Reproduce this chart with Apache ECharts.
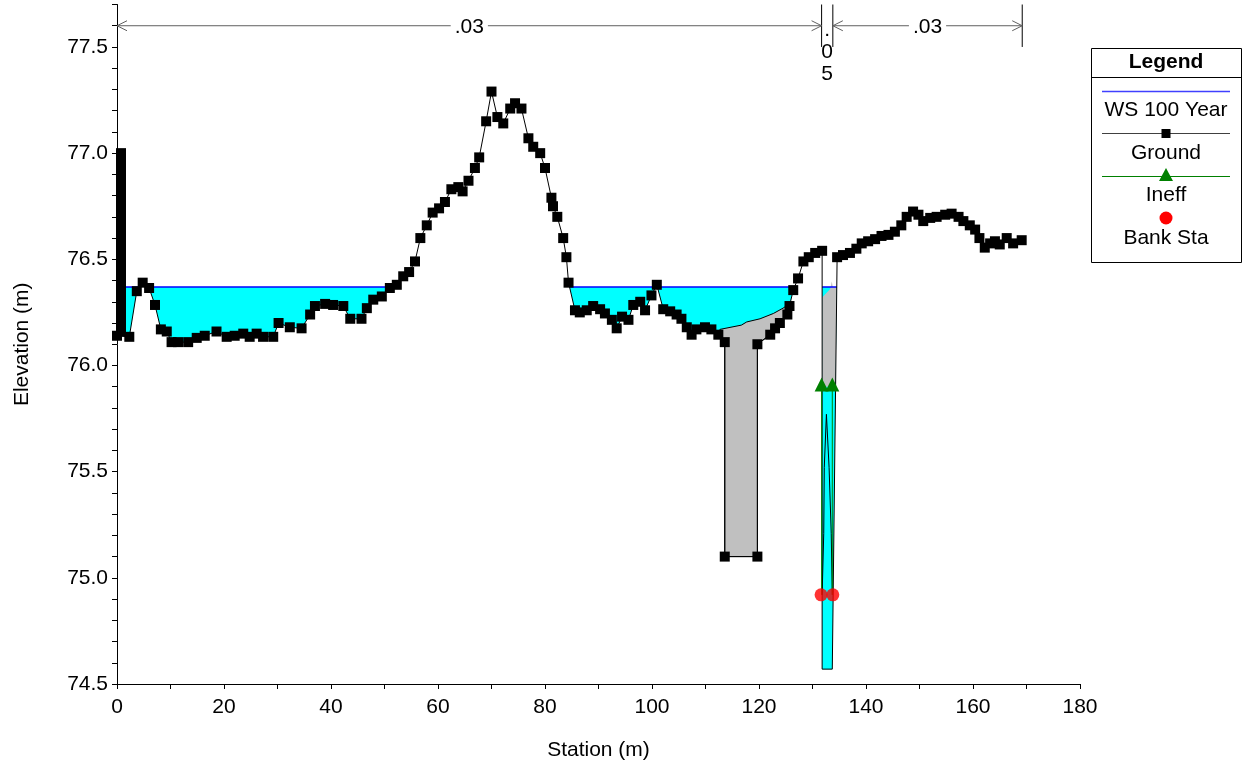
<!DOCTYPE html>
<html><head><meta charset="utf-8">
<script src="https://cdn.jsdelivr.net/npm/echarts@6/dist/echarts.min.js"></script>
<style>html,body{margin:0;padding:0;background:#fff}#c{width:1246px;height:763px}</style>
</head><body><div id="c"></div>
<script>
// ---------------- DATA ----------------
const wsElev = 76.37;               // WS 100 Year
const xTicks = [0, 180, 20];        // min, max, interval
const yTicks = [74.5, 77.7, 0.5];

// Ground: left overbank / main area up to slot top
const groundLeft = [
 [0.75,77.0],[0.75,76.96],[0.75,76.92],[0.75,76.88],[0.75,76.84],[0.75,76.80],[0.75,76.76],[0.75,76.72],
 [0.75,76.68],[0.75,76.64],[0.75,76.60],[0.75,76.56],[0.75,76.52],[0.75,76.48],[0.75,76.44],[0.75,76.40],
 [0.75,76.36],[0.75,76.32],[0.75,76.28],[0.75,76.24],[0.75,76.20],[0.75,76.16],
 [0,76.14],[2.3,76.135],[3.7,76.35],[4.8,76.39],[6.0,76.365],[7.1,76.285],[8.2,76.17],[9.3,76.16],
 [10.2,76.11],[11.4,76.11],[13.3,76.11],[14.9,76.13],[16.4,76.14],[18.6,76.16],[20.5,76.135],[22.0,76.14],
 [23.6,76.15],[24.8,76.135],[26.1,76.15],[27.3,76.135],[29.2,76.135],[30.2,76.2],[32.3,76.18],[34.5,76.175],
 [36.1,76.24],[37.0,76.28],[38.9,76.29],[40.4,76.285],[42.3,76.28],[43.6,76.22],[45.7,76.22],[46.7,76.27],
 [47.9,76.31],[49.5,76.325],[51.0,76.365],[52.3,76.38],[53.5,76.42],[54.6,76.44],[55.7,76.49],[56.7,76.6],
 [57.9,76.66],[59.0,76.72],[60.2,76.74],[61.3,76.77],[62.5,76.83],[63.8,76.84],[64.6,76.82],[65.7,76.87],
 [66.9,76.93],[67.7,76.98],[69.0,77.15],[70.0,77.29],[71.1,77.17],[72.2,77.14],[73.5,77.21],[74.4,77.235],
 [75.6,77.21],[76.9,77.07],[77.8,77.03],[79.1,77.0],[80.0,76.93],[81.2,76.79],[81.5,76.75],[82.3,76.7],
 [83.4,76.6],[84.0,76.51],[84.4,76.39],[85.6,76.26],[86.5,76.25],[87.8,76.26],[89.0,76.28],[90.3,76.265],
 [91.2,76.245],[92.5,76.215],[93.4,76.175],[94.4,76.23],[95.6,76.215],[96.5,76.285],[97.8,76.3],[98.7,76.26],
 [99.9,76.33],[100.9,76.38],[102.1,76.265],[103.4,76.255],[104.6,76.24],[105.5,76.22],[106.5,76.18],[107.4,76.145],
 [108.3,76.17],[109.9,76.18],[111.1,76.17],[112.4,76.145],[113.6,76.11],[113.6,75.1],[119.7,75.1],[119.7,76.1],
 [122.1,76.145],[123.0,76.175],[123.9,76.2],[125.3,76.24],[125.7,76.28],[126.4,76.355],[127.3,76.41],[128.3,76.49],
 [129.3,76.51],[130.5,76.53],[131.8,76.54]
];
// Slot bottom (no markers)
const groundSlot = [[131.8,74.57],[133.7,74.57]];
// Ground right overbank
const groundRight = [
 [134.6,76.51],[135.7,76.52],[137.0,76.53],[138.2,76.55],[139.2,76.575],[140.4,76.585],[141.7,76.595],[142.9,76.61],
 [144.2,76.615],[145.4,76.63],[146.6,76.66],[147.6,76.7],[148.8,76.725],[149.8,76.71],[150.7,76.68],[152.0,76.695],
 [153.2,76.7],[154.8,76.71],[156.0,76.715],[157.3,76.7],[158.2,76.68],[159.4,76.66],[160.4,76.64],[161.2,76.6],
 [162.2,76.555],[163.2,76.575],[164.1,76.585],[165.0,76.57],[166.3,76.6],[167.5,76.575],[169.1,76.59]
];
// Blocked (gray) areas
const blockA = [
 [112.4,76.145],[113.6,76.11],[113.6,75.1],[119.7,75.1],[119.7,76.1],[122.1,76.145],[123.0,76.175],[123.9,76.2],
 [125.3,76.24],[125.5,76.27],[125.1,76.28],[124.5,76.27],[122.7,76.245],[120.2,76.22],[117.7,76.205],[116.7,76.19],[112.7,76.17]
];
const blockB = [[131.8,76.32],[133.3,76.36],[133.6,76.395],[133.8,76.37],[134.53,76.37],[134.32,75.9],[131.8,75.9]];
const spike = [[131.8,74.92],[132.1,75.21],[132.2,75.52],[132.6,75.77],[133.1,75.52],[133.5,75.21],[133.7,74.92]];
// Ineffective flow
const ineffSta = [131.7, 133.7];
const ineffTop = 75.91, ineffBottom = 74.92;
// Bank stations
const bankSta = [[131.6,74.92],[133.8,74.92]];
// Manning's n
const nBounds = [0, 131.7, 133.8, 169.2];
const nValues = ['.03', '.05', '.03'];
const nElev = 77.6, nTickTop = 77.7, nTickBottom = 77.5;

// ---------------- GEOMETRY HELPERS ----------------
const groundAll = groundLeft.concat(groundSlot, groundRight);
function wetPolygons(pts, ws){
  const polys=[]; let cur=null;
  for(let i=0;i<pts.length;i++){
    const p=pts[i];
    if(i>0){
      const q=pts[i-1];
      const qa=q[1]<ws, pa=p[1]<ws;
      if(qa!==pa){
        const t=(ws-q[1])/(p[1]-q[1]);
        const x=q[0]+t*(p[0]-q[0]);
        if(pa){cur=[[x,ws]];} else {cur.push([x,ws]);polys.push(cur);cur=null;}
      }
    } else if(p[1]<ws){cur=[[p[0],ws]];}
    if(p[1]<ws) cur.push(p);
  }
  if(cur){cur.push([cur[cur.length-1][0],ws]);polys.push(cur);}
  return polys;
}
const wetPolys = wetPolygons(groundAll, wsElev);

const FONT = 'Liberation Sans, Arial, sans-serif';
const FS = 21;

function polySeries(name, pts, fill, stroke, z, closed){
  return {
    type:'custom', name, z, silent:true, clip:false,
    data: pts,
    renderItem(params, api){
      if(params.dataIndex!==0) return;
      const pp = pts.map(p=>api.coord(p));
      if(closed){
        return {type:'polygon', shape:{points:pp}, style:{fill:fill, stroke:stroke||null, lineWidth:1}};
      }
      return {type:'polyline', shape:{points:pp}, style:{fill:null, stroke:stroke, lineWidth:1}};
    }
  };
}

const series = [];
wetPolys.forEach((poly,i)=>series.push(polySeries('water'+i, poly, '#00FFFF', null, 1, true)));
series.push(polySeries('blockA', blockA, '#C0C0C0', '#000', 2, true));
series.push(polySeries('blockB', blockB, '#C0C0C0', null, 2, true));
series.push(polySeries('spike', spike, null, '#000', 3, false));
wetPolys.forEach((poly,i)=>series.push({
  type:'line', name:'WS'+i, z:4, silent:true, symbol:'none',
  lineStyle:{color:'#0000FF', width:1.5},
  data:[poly[0], poly[poly.length-1]]
}));
series.push({
  type:'line', name:'Ground', z:6, silent:true,
  symbol:'rect', symbolSize:10,
  itemStyle:{color:'#000'},
  lineStyle:{color:'#000', width:1},
  data: groundLeft.map(p=>({value:p}))
        .concat(groundSlot.map(p=>({value:p, symbol:'none'})))
        .concat(groundRight.map(p=>({value:p})))
});
ineffSta.forEach((s,i)=>series.push({
  type:'line', name:'Ineff'+i, z:7, silent:true,
  symbol:'triangle', symbolSize:14,
  itemStyle:{color:'#008000'}, lineStyle:{color:'#008000', width:1},
  data:[{value:[s,ineffBottom], symbol:'none'},{value:[s,ineffTop]}]
}));
series.push({
  type:'scatter', name:'Bank Sta', z:8, silent:true,
  symbol:'circle', symbolSize:13, itemStyle:{color:'#FF0000'},
  data: bankSta
});
series.push({
  type:'custom', name:'nValues', z:9, silent:true, clip:false,
  data: nBounds.map(b=>[b, nElev]),
  renderItem(params, api){
    if(params.dataIndex!==0) return;
    const ch=[];
    const yA = api.coord([0,nElev])[1];
    const yT = api.coord([0,nTickTop])[1];
    const yB = api.coord([0,nTickBottom])[1];
    const px = nBounds.map(b=>api.coord([b,nElev])[0]);
    const gray='#606060';
    for(let i=1;i<px.length;i++){
      ch.push({type:'line', shape:{x1:px[i],y1:yT,x2:px[i],y2:yB}, style:{stroke:'#000',lineWidth:1}});
    }
    for(let i=0;i<nValues.length;i++){
      const x1=px[i], x2=px[i+1], xm=(x1+x2)/2;
      if(x2-x1>40){
        ch.push({type:'line', shape:{x1:x1,y1:yA,x2:x2,y2:yA}, style:{stroke:gray,lineWidth:1}});
        ch.push({type:'polyline', shape:{points:[[x1+10,yA-5],[x1,yA],[x1+10,yA+5]]}, style:{stroke:gray,fill:null,lineWidth:1}});
        ch.push({type:'polyline', shape:{points:[[x2-10,yA-5],[x2,yA],[x2-10,yA+5]]}, style:{stroke:gray,fill:null,lineWidth:1}});
        ch.push({type:'text', x:xm, y:yA+1, style:{text:nValues[i], fill:'#000', font:FS+'px '+FONT,
          align:'center', verticalAlign:'middle', backgroundColor:'#fff', padding:[0,4]}});
      } else {
        const chars = nValues[i].split('');
        chars.forEach((c,k)=>ch.push({type:'text', x:xm, y:yA+4+k*22, style:{text:c, fill:'#000',
          font:FS+'px '+FONT, align:'center', verticalAlign:'middle'}}));
      }
    }
    return {type:'group', children:ch};
  }
});

// Legend (graphic)
const LX=1091, LY=48, LW=150, LH=214, LC=LX+LW/2;
const legendGraphic = [
  {type:'rect', shape:{x:LX+0.5,y:LY+0.5,width:LW,height:LH}, style:{fill:'#fff',stroke:'#000',lineWidth:1}},
  {type:'line', shape:{x1:LX,y1:LY+29.5,x2:LX+LW,y2:LY+29.5}, style:{stroke:'#000',lineWidth:1}},
  {type:'text', x:LC, y:LY+14, style:{text:'Legend', font:'bold '+FS+'px '+FONT, fill:'#000', align:'center', verticalAlign:'middle'}},
  {type:'line', shape:{x1:LX+11,y1:LY+43.5,x2:LX+139,y2:LY+43.5}, style:{stroke:'#4040FF',lineWidth:1.5}},
  {type:'text', x:LC, y:LY+62, style:{text:'WS 100 Year', font:FS+'px '+FONT, fill:'#000', align:'center', verticalAlign:'middle'}},
  {type:'line', shape:{x1:LX+11,y1:LY+85.5,x2:LX+139,y2:LY+85.5}, style:{stroke:'#404040',lineWidth:1}},
  {type:'rect', shape:{x:LC-4.5,y:LY+81,width:9,height:9}, style:{fill:'#000'}},
  {type:'text', x:LC, y:LY+105, style:{text:'Ground', font:FS+'px '+FONT, fill:'#000', align:'center', verticalAlign:'middle'}},
  {type:'line', shape:{x1:LX+11,y1:LY+128.5,x2:LX+139,y2:LY+128.5}, style:{stroke:'#008000',lineWidth:1}},
  {type:'polygon', shape:{points:[[LC-7,LY+133],[LC+7,LY+133],[LC,LY+120]]}, style:{fill:'#008000'}},
  {type:'text', x:LC, y:LY+147, style:{text:'Ineff', font:FS+'px '+FONT, fill:'#000', align:'center', verticalAlign:'middle'}},
  {type:'circle', shape:{cx:LC,cy:LY+170,r:6.5}, style:{fill:'#FF0000'}},
  {type:'text', x:LC, y:LY+190, style:{text:'Bank Sta', font:FS+'px '+FONT, fill:'#000', align:'center', verticalAlign:'middle'}}
];

const chart = echarts.init(document.getElementById('c'), null, {renderer:'canvas'});
chart.setOption({
  animation:false,
  backgroundColor:'#fff',
  textStyle:{fontFamily:FONT},
  grid:{left:117, right:166, top:4.5, bottom:79, containLabel:false, outerBoundsMode:'none'},
  xAxis:{
    type:'value', min:xTicks[0], max:xTicks[1], interval:xTicks[2],
    name:'Station (m)', nameLocation:'middle', nameGap:56,
    nameTextStyle:{fontSize:FS, color:'#000', fontFamily:FONT},
    axisLine:{show:true, onZero:false, lineStyle:{color:'#000', width:1}},
    axisTick:{show:true, length:5, lineStyle:{color:'#000'}},
    minorTick:{show:true, splitNumber:2, length:5, lineStyle:{color:'#000'}},
    axisLabel:{fontSize:FS, color:'#000', margin:13, fontFamily:FONT},
    splitLine:{show:false}
  },
  yAxis:{
    type:'value', min:yTicks[0], max:yTicks[1], interval:yTicks[2],
    name:'Elevation (m)', nameLocation:'middle', nameGap:84, nameRotate:90,
    nameTextStyle:{fontSize:FS, color:'#000', fontFamily:FONT},
    axisLine:{show:true, onZero:false, lineStyle:{color:'#000', width:1}},
    axisTick:{show:true, length:5, lineStyle:{color:'#000'}},
    minorTick:{show:true, splitNumber:5, length:5, lineStyle:{color:'#000'}},
    axisLabel:{fontSize:FS, color:'#000', margin:9, fontFamily:FONT, showMaxLabel:false,
      formatter:v=>v.toFixed(1)},
    splitLine:{show:false}
  },
  graphic: legendGraphic,
  series
});
</script></body></html>
